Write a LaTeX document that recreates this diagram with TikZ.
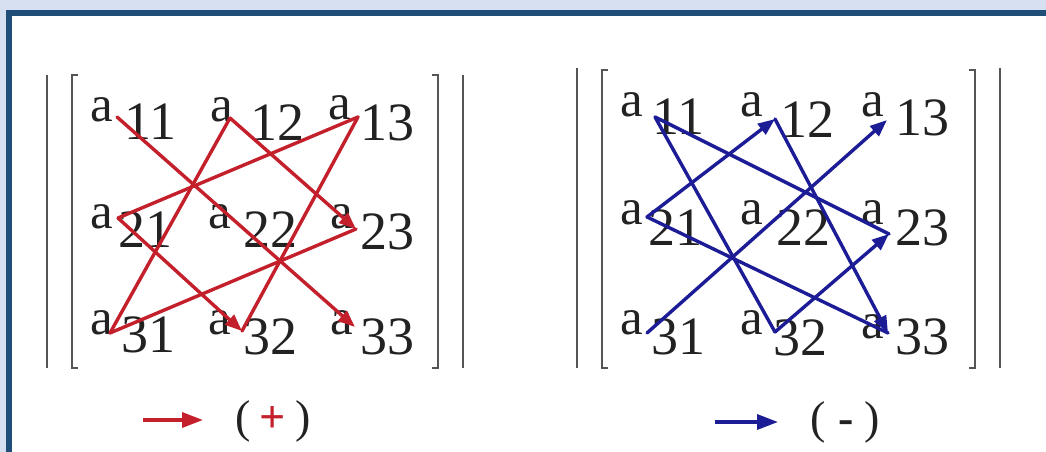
\documentclass[tikz,border=0pt]{standalone}
\usepackage{fontspec}
\setmainfont{Liberation Serif}
\usetikzlibrary{arrows.meta}

\begin{document}
\begin{tikzpicture}[x=1pt,y=-1pt,line width=0.4pt]
\definecolor{figframe}{RGB}{31,78,121}
\definecolor{figback}{RGB}{214,224,240}
\definecolor{figred}{RGB}{196,32,44}
\definecolor{figblue}{RGB}{28,28,150}
\definecolor{figink}{RGB}{34,34,34}
\definecolor{figbar}{RGB}{85,85,85}
\providecommand{\fent}{\fontsize{51}{53}\selectfont}
\providecommand{\fnum}{\fontsize{54}{56}\selectfont}
\providecommand{\fleg}{\fontsize{46}{48}\selectfont}
\tikzset{
  ent/.style={inner sep=0pt,font=\fent,text=figink},
  subnum/.style={inner sep=0pt,font=\fnum,text=figink},
  matbar/.style={draw=figbar,line width=2.4pt},
  redline/.style={draw=figred,line width=3.4pt,line cap=round,line join=round},
  blueline/.style={draw=figblue,line width=3.4pt,line cap=round,line join=round},
  arrowtip/.style={-{Triangle[length=17pt,width=13pt]}},
  legtip/.style={-{Triangle[length=21pt,width=15pt]}}
}
% frame
\fill[figback] (0,0) rectangle (1046,452);
\fill[figframe] (6,10) rectangle (1046,452);
\fill[white] (12,16) rectangle (1046,452);
\useasboundingbox (0,0) rectangle (1046,452);
% left determinant, bars
\draw[matbar] (47,75) -- (47,368);
\draw[matbar] (78,75) -- (72,75) -- (72,368) -- (78,368);
\draw[matbar] (432,75) -- (438,75) -- (438,368) -- (432,368);
\draw[matbar] (463,75) -- (463,368);
% left entries
\node[ent] (la11) at (102,110) {a};
\node[subnum] (ls11) at (150,122) {11};
\node[ent] (la12) at (222,110) {a};
\node[subnum] (ls12) at (277,123) {12};
\node[ent] (la13) at (340,108) {a};
\node[subnum] (ls13) at (387,123) {13};
\node[ent] (la21) at (102,217) {a};
\node[subnum] (ls21) at (145,230) {21};
\node[ent] (la22) at (220,217) {a};
\node[subnum] (ls22) at (270,230) {22};
\node[ent] (la23) at (342,217) {a};
\node[subnum] (ls23) at (387,232) {23};
\node[ent] (la31) at (102,323) {a};
\node[subnum] (ls31) at (148,335) {31};
\node[ent] (la32) at (220,323) {a};
\node[subnum] (ls32) at (270,337) {32};
\node[ent] (la33) at (342,323) {a};
\node[subnum] (ls33) at (387,337) {33};
% left corners of the red paths
\coordinate (lp11) at (117,117);
\coordinate (lp12) at (230,118);
\coordinate (lp13) at (358,117);
\coordinate (lp21) at (118,218);
\coordinate (lp23) at (356,229);
\coordinate (lp31) at (110,333);
\coordinate (lp32) at (242,331);
\coordinate (lp33) at (355,327);
\draw[redline,arrowtip] (lp11) -- (lp33);
\draw[redline,arrowtip] (lp12) -- (lp23);
\draw[redline] (lp12) -- (lp31) -- (lp23);
\draw[redline] (lp13) -- (lp21);
\draw[redline,arrowtip] (lp21) -- (lp32);
\draw[redline] (lp13) -- (lp32);
% right determinant, bars
\draw[matbar] (577,68) -- (577,368);
\draw[matbar] (608,70) -- (602,70) -- (602,368) -- (608,368);
\draw[matbar] (969,70) -- (975,70) -- (975,368) -- (969,368);
\draw[matbar] (1000,68) -- (1000,368);
% right entries
\node[ent] (ra11) at (632,105) {a};
\node[subnum] (rs11) at (678,117) {11};
\node[ent] (ra12) at (752,105) {a};
\node[subnum] (rs12) at (807,120) {12};
\node[ent] (ra13) at (873,105) {a};
\node[subnum] (rs13) at (922,118) {13};
\node[ent] (ra21) at (632,213) {a};
\node[subnum] (rs21) at (675,228) {21};
\node[ent] (ra22) at (752,213) {a};
\node[subnum] (rs22) at (803,228) {22};
\node[ent] (ra23) at (873,213) {a};
\node[subnum] (rs23) at (922,228) {23};
\node[ent] (ra31) at (632,323) {a};
\node[subnum] (rs31) at (678,337) {31};
\node[ent] (ra32) at (752,323) {a};
\node[subnum] (rs32) at (800,338) {32};
\node[ent] (ra33) at (873,327) {a};
\node[subnum] (rs33) at (922,337) {33};
% right corners of the blue paths
\coordinate (rp11) at (655,117);
\coordinate (rp12) at (775,119);
\coordinate (rp13) at (887,120);
\coordinate (rp21) at (647,217);
\coordinate (rp23) at (889,234);
\coordinate (rp31) at (647,333);
\coordinate (rp32) at (775,332);
\coordinate (rp33) at (888,333);
\draw[blueline,arrowtip] (rp31) -- (rp13);
\draw[blueline,arrowtip] (rp21) -- (rp12);
\draw[blueline] (rp21) -- (rp33);
\draw[blueline,arrowtip] (rp12) -- (rp33);
\draw[blueline] (rp23) -- (rp11) -- (rp32);
\draw[blueline,arrowtip] (rp32) -- (rp23);
% legend
\coordinate (lk1) at (143,420);
\coordinate (lk2) at (203,420);
\draw[figred,line width=3.4pt,legtip] (lk1) -- (lk2);
\node[inner sep=0pt,font=\fleg,text=figink] (lsign) at (273,421) {(\hspace{9pt}\textcolor{figred}{\textbf{+}}\hspace{9pt})};
\coordinate (rk1) at (715,422);
\coordinate (rk2) at (778,422);
\draw[figblue,line width=3.4pt,legtip] (rk1) -- (rk2);
\node[inner sep=0pt,font=\fleg,text=figink] (rsign) at (845,422) {(\hspace{13pt}\textbf{-}\hspace{10pt})};
\end{tikzpicture}
\end{document}
